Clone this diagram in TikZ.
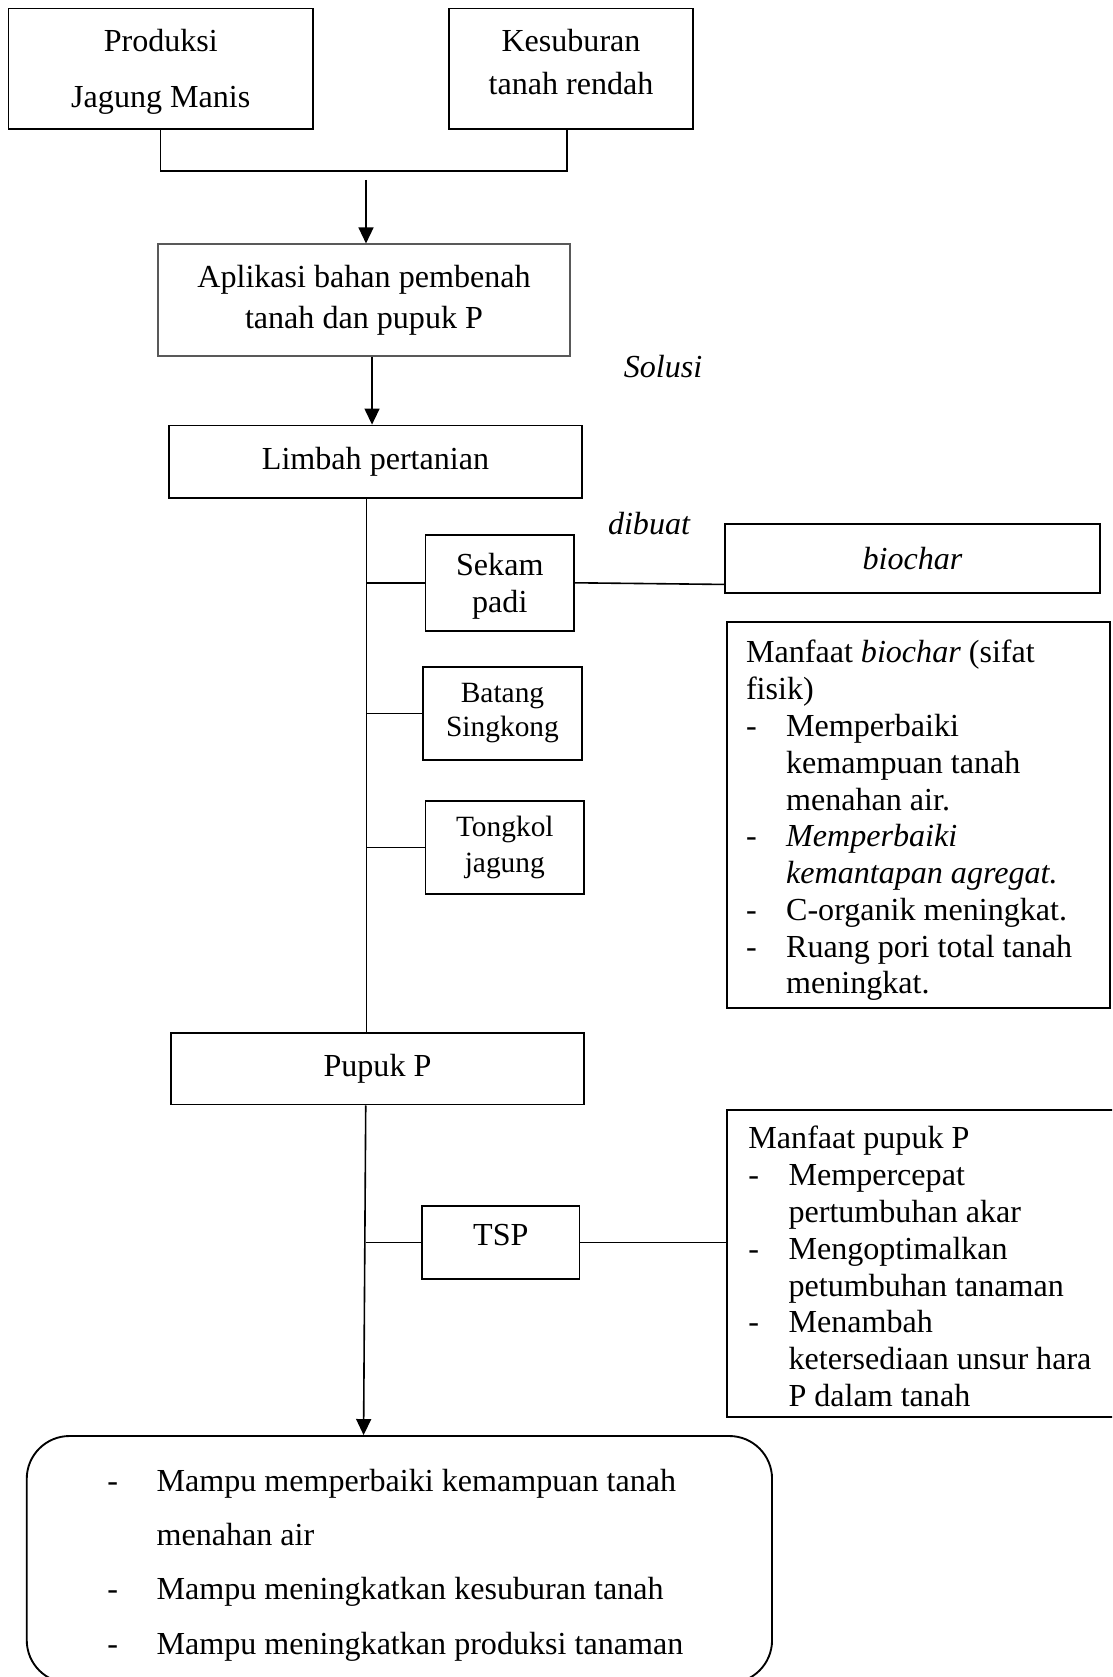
\documentclass[tikz,border=0pt]{standalone}
\usepackage{fontspec}
\setmainfont{Liberation Serif}
\usetikzlibrary{arrows.meta}
\usetikzlibrary{positioning}
\newcommand{\pxu}{0.374pt}
\newcommand{\listdash}[1][15pt]{\makebox[#1][l]{-}}
\newcommand{\listhang}[1][15pt]{\hspace*{#1}}
\tikzset{
    box/.style={
        rectangle,
        draw=black,
        line width=0.7pt,
        align=center,
        inner sep=2pt,
        font=\fontsize{12}{14}\selectfont
    },
    infobox/.style={
        box,
        align=flush left,
        text width=129pt,
        font=\fontsize{12}{13.75}\selectfont
    },
    link/.style={
        line width=0.6pt,
        draw=black
    },
    arrow/.style={
        link,
        -{Triangle[length=6pt,width=5.6pt]}
    },
    note/.style={
        font=\fontsize{12}{14}\selectfont\itshape
    }
}

\begin{document}
\begin{tikzpicture}[x=\pxu, y=-\pxu]
        \useasboundingbox (0,0) rectangle (1112,1677);
        \clip (0,0) rectangle (1112,1677);

        % Problem boxes
        \node (produksi) [box, minimum width=304.5*\pxu, minimum height=120.5*\pxu, text depth=-1.6pt, font=\fontsize{12}{21}\selectfont] at (160.8,68.8) {Produksi\\Jagung Manis};
        \node (kesuburan) [box, minimum width=244*\pxu, minimum height=120.5*\pxu, text depth=5.2pt, font=\fontsize{12}{16}\selectfont] at (571,68.8) {Kesuburan\\tanah rendah};

        % Joining bracket
        \coordinate (joinL) at (160.4,171);
        \coordinate (joinR) at (566.7,171);
        \coordinate (joinM) at (366,180);
        \draw [link] (joinL |- produksi.south) -- (joinL) -- (joinR) -- (joinR |- kesuburan.south);

        % Solution
        \node (aplikasi) [box, draw=black!65, line width=0.4pt, minimum width=412*\pxu, minimum height=112*\pxu, font=\fontsize{12}{15.2}\selectfont] at (364,300) {Aplikasi bahan pembenah\\tanah dan pupuk P};
        \draw [arrow] (joinM) -- (joinM |- aplikasi.north);
        \node (solusi) [note] at (663,367) {Solusi};

        % Agricultural waste
        \node (limbah) [box, minimum width=413*\pxu, minimum height=72.5*\pxu] at (375.5,461.8) {Limbah pertanian};
        \coordinate (aplikasiout) at ([xshift=3pt]aplikasi.south);
        \draw [arrow] (aplikasiout) -- (aplikasiout |- limbah.north);

        \node (sekam) [box, minimum width=148.5*\pxu, minimum height=96.4*\pxu, text depth=0pt] at (499.8,582.8) {Sekam\\padi};
        \node (batang) [box, minimum width=159*\pxu, minimum height=93*\pxu, font=\fontsize{11}{12.7}\selectfont] at (502.5,713.5) {Batang\\Singkong};
        \node (tongkol) [box, minimum width=158.5*\pxu, minimum height=93*\pxu, font=\fontsize{11}{13.2}\selectfont] at (504.8,847.5) {Tongkol\\jagung};
        \node (pupuk) [box, minimum width=413*\pxu, minimum height=71.5*\pxu] at (377.5,1068.8) {Pupuk P};

        % Trunk and branches
        \coordinate (trunk) at ([xshift=-3.3pt]limbah.south);
        \draw [link] (trunk) -- (trunk |- pupuk.north);
        \draw [link] (trunk |- sekam.west) -- (sekam.west);
        \draw [link] (trunk |- batang.west) -- (batang.west);
        \draw [link] (trunk |- tongkol.west) -- (tongkol.west);

        % Biochar
        \node (dibuat) [note] at (649,524) {dibuat};
        \node (biochar) [box, minimum width=375*\pxu, minimum height=69*\pxu, font=\fontsize{12}{14}\selectfont\itshape] at (912.5,558.5) {biochar};
        \draw [link] (sekam.east) -- ([yshift=-9.7pt]biochar.west);
        \node (manfaatbiochar) [infobox, inner xsep=7.1pt, minimum height=386*\pxu] at (918.5,815) {\rule{0pt}{12.6pt}Manfaat \textit{biochar} (sifat\\fisik)\\
            \listdash Memperbaiki\\
            \listhang kemampuan tanah\\
            \listhang menahan air.\\
            \listdash \textit{Memperbaiki}\\
            \listhang \textit{kemantapan agregat.}\\
            \listdash C-organik meningkat.\\
            \listdash Ruang pori total tanah\\
            \listhang meningkat.};

        % Fertilizer P
        \coordinate (ptop) at ([xshift=-4.4pt]pupuk.south);
        \node (tsp) [box, minimum width=157.5*\pxu, minimum height=73*\pxu, text depth=5.6pt] at (500.8,1242.5) {TSP};
        \node (manfaatpupuk) [infobox, text width=140pt, inner xsep=8pt, minimum height=307*\pxu] at (935.6,1263.5) {\rule{0pt}{10.7pt}Manfaat pupuk P\\
            \listdash Mempercepat\\
            \listhang pertumbuhan akar\\
            \listdash Mengoptimalkan\\
            \listhang petumbuhan tanaman\\
            \listdash Menambah\\
            \listhang ketersediaan unsur hara\\
            \listhang P dalam tanah};
        \draw [link] (ptop |- tsp.west) -- (tsp.west);
        \draw [link] (tsp.east) -- (tsp.east -| manfaatpupuk.west);

        % Result
        \node (hasil) [box, rounded corners=16pt, align=flush left, text width=218.4pt, minimum width=745.3*\pxu, minimum height=247*\pxu, font=\fontsize{12}{20.3}\selectfont] at (399.4,1559.5) {\mbox{\rule{0pt}{12.5pt}\listdash[18.4pt]Mampu memperbaiki kemampuan tanah}\\
            \mbox{\listhang[18.4pt]menahan air}\\
            \mbox{\listdash[18.4pt]Mampu meningkatkan kesuburan tanah}\\
            \mbox{\listdash[18.4pt]Mampu meningkatkan produksi tanaman}};
        \coordinate (hasilin) at ([xshift=-13.4pt]hasil.north);
        \draw [arrow] (ptop) -- (hasilin);

    \end{tikzpicture}
\end{document}
